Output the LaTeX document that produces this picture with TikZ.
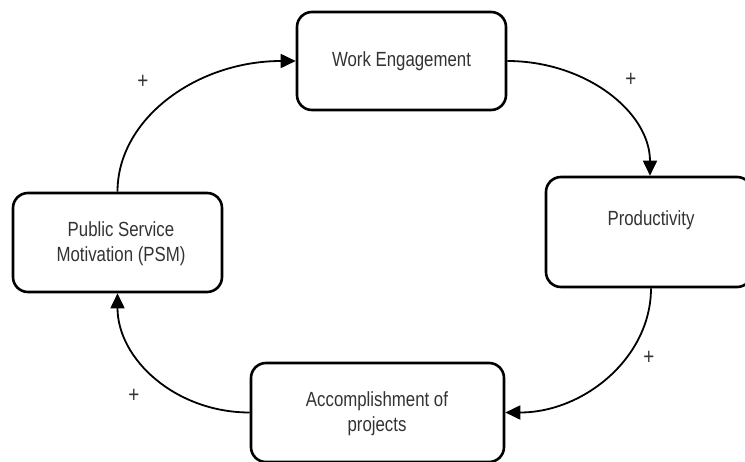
\documentclass[tikz,border=0pt]{standalone}
\usepackage{fontspec}
\setmainfont{Liberation Sans}[FakeStretch=0.82]
\usetikzlibrary{arrows.meta}
\definecolor{txtgrey}{HTML}{333333}
\tikzset{
  box/.style={draw=black, line width=2.6pt, rounded corners=15pt, rectangle, inner sep=0pt},
  lbl/.style={text=txtgrey, font=\fontsize{20.5}{25}\selectfont, align=center, inner sep=0pt},
  plus/.style={text=txtgrey, font=\fontsize{23}{24}\selectfont, inner sep=0pt},
  arr/.style={draw=black, line width=1.8pt, -{Triangle[length=15pt,width=14pt]}}
}
\begin{document}
\begin{tikzpicture}[x=1pt,y=-1pt]
\useasboundingbox (0,0) rectangle (745,461);
\clip (0,0) rectangle (745,461);
\fill[white] (0,0) rectangle (745,461);
% boxes
\node[box, minimum width=209pt, minimum height=98pt] (we) at (401.5,61) {};
\node[box, minimum width=206pt, minimum height=110pt] (prod) at (649,232) {};
\node[box, minimum width=209pt, minimum height=99pt] (psm) at (117.5,242.5) {};
\node[box, minimum width=253pt, minimum height=99pt] (acc) at (377.5,412.5) {};
% texts
\node[lbl] (wet) at (we.center) {Work Engagement};
\node[lbl] (prodt) at (651,220) {Productivity};
\node[lbl] (psmt) at (121,244) {Public Service\\Motivation (PSM)};
\node[lbl] (acct) at (377,414) {Accomplishment of\\projects};
% connectors
\draw[arr] (psm.north) .. controls +(0,-73) and +(-99,0) .. (we.west);
\draw[arr] (we.east) .. controls +(78,0) and +(0,-64) .. ([xshift=1pt]prod.north);
\draw[arr] ([xshift=2pt]prod.south) .. controls +(0,69) and +(79,0) .. (acc.east);
\draw[arr] (acc.west) .. controls +(-74,0) and +(0,66) .. (psm.south);
% signs
\node[plus] (p1) at (143,82) {+};
\node[plus] (p2) at (631,80) {+};
\node[plus] (p3) at (649,358) {+};
\node[plus] (p4) at (134,396) {+};
\end{tikzpicture}
\end{document}
